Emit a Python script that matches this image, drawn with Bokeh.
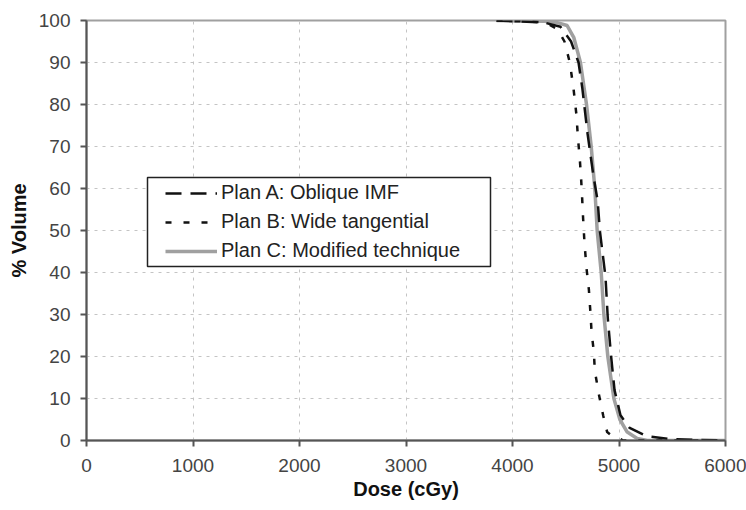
from bokeh.plotting import figure
from bokeh.models import Range1d, Legend, LegendItem, BoxAnnotation, FixedTicker
from bokeh.embed import file_html
from bokeh.resources import INLINE

# Plan A: Oblique IMF
dose_a = [3850, 4300, 4450, 4550, 4620, 4655, 4705, 4760, 4800, 4820, 4873, 4895, 4926, 4958, 5014, 5100, 5260, 5500, 6000]
vol_a = [100, 99.5, 98.5, 95, 90, 84, 73, 63, 57, 50, 39, 29, 20, 12, 6, 3, 1, 0.3, 0]

# Plan B: Wide tangential
dose_b = [3850, 4300, 4420, 4488, 4538, 4572, 4601, 4614, 4632, 4645, 4654, 4663, 4676, 4695, 4717, 4733, 4742, 4764, 4773, 4811, 4851, 4889, 4940, 5000, 5040, 6000]
vol_b = [100, 99.6, 98, 95, 90, 84, 77.4, 72.2, 67, 62, 57.7, 52.9, 47, 41, 36, 30, 26, 21, 16.6, 11, 6, 2, 1, 0.5, 0, 0]

# Plan C: Modified technique
dose_c = [3850, 4300, 4420, 4513, 4575, 4638, 4695, 4739, 4773, 4795, 4833, 4858, 4895, 4952, 5008, 5077, 5171, 5265, 6000]
vol_c = [100, 99.8, 99.5, 98.8, 96, 90, 80, 70, 60, 50, 40, 30, 20, 10, 5, 2, 0.5, 0, 0]

labels = ["Plan A: Oblique IMF", "Plan B: Wide tangential", "Plan C: Modified technique"]
x_ticks = [0, 1000, 2000, 3000, 4000, 5000, 6000]
y_ticks = [0, 10, 20, 30, 40, 50, 60, 70, 80, 90, 100]

FONT = "Liberation Sans"

p = figure(width=746, height=510, output_backend="svg", toolbar_location=None,
           x_range=Range1d(0, 6000), y_range=Range1d(0, 100),
           min_border_left=86, min_border_right=21, min_border_top=20, min_border_bottom=70)
p.background_fill_color = "white"
p.border_fill_color = "white"
p.outline_line_color = "#a0a0a0"
p.outline_line_width = 2

for ax in (p.xaxis[0], p.yaxis[0]):
    ax.axis_line_color = "#555555"
    ax.axis_line_width = 2
    ax.major_tick_line_color = "#555555"
    ax.major_tick_line_width = 2
    ax.major_tick_out = 6
    ax.major_tick_in = 0
    ax.minor_tick_line_color = None
    ax.major_label_text_font = FONT
    ax.major_label_text_font_size = "19px"
    ax.major_label_text_color = "#444444"
    ax.axis_label_text_font = FONT
    ax.axis_label_text_font_size = "20px"
    ax.axis_label_text_font_style = "bold"
    ax.axis_label_text_color = "#111111"

p.xaxis.ticker = FixedTicker(ticks=x_ticks)
p.yaxis.ticker = FixedTicker(ticks=y_ticks)
p.xaxis.axis_label = "Dose (cGy)"
p.yaxis.axis_label = "% Volume"
p.xaxis.major_label_standoff = 12
p.yaxis.major_label_standoff = 10
p.xaxis.axis_label_standoff = 3
p.yaxis.axis_label_standoff = 6

for g in (p.xgrid[0], p.ygrid[0]):
    g.grid_line_color = "#c4c4c4"
    g.grid_line_width = 1
    g.grid_line_dash = "3 5"
p.xgrid.ticker = FixedTicker(ticks=x_ticks)
p.ygrid.ticker = FixedTicker(ticks=y_ticks)

rc = p.line(dose_c, vol_c, line_color="#a0a0a0", line_width=3.5)
ra = p.line(dose_a, vol_a, line_color="#111111", line_width=2.5, line_dash="16 9")
rb = p.line(dose_b, vol_b, line_color="#111111", line_width=2.5, line_dash="6 12")

# legend frame (white box with black border), placed by pixel offsets converted to data
px_x = 6000 / 639.0
px_y = 100 / 420.0
box = BoxAnnotation(left=61 * px_x, right=404 * px_x, bottom=174 * px_y, top=263 * px_y,
                    fill_color="white", fill_alpha=1.0, line_color="#222222", line_alpha=1.0,
                    line_width=1.5, level="annotation")
p.add_layout(box)

legend = Legend(items=[LegendItem(label=labels[0], renderers=[ra]),
                       LegendItem(label=labels[1], renderers=[rb]),
                       LegendItem(label=labels[2], renderers=[rc])],
                location=(79, 177), orientation="vertical")
legend.background_fill_alpha = 0
legend.border_line_alpha = 0
legend.padding = 0
legend.margin = 0
legend.spacing = 4
legend.label_height = 25
legend.glyph_height = 20
legend.glyph_width = 52
legend.label_standoff = 4
legend.label_text_font = FONT
legend.label_text_font_size = "20px"
legend.label_text_color = "#222222"
p.add_layout(legend)

open("out.html", "w").write(file_html(p, INLINE))
